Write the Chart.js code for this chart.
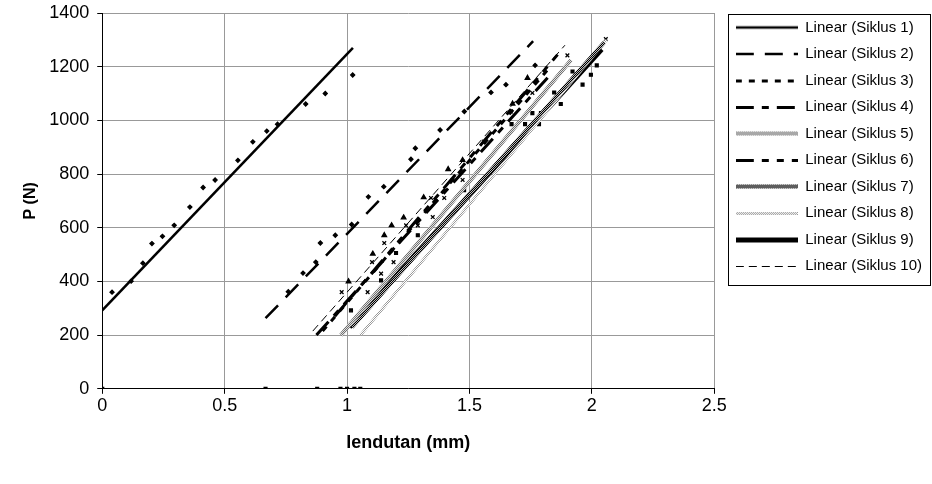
<!DOCTYPE html>
<html>
<head>
<meta charset="utf-8">
<script src="https://cdn.jsdelivr.net/npm/chart.js@4.4.0/dist/chart.umd.min.js"></script>
<style>
  body { margin: 0; background: #fff; }
</style>
</head>
<body>
<canvas id="chart" width="932" height="484"></canvas>
<script>
// --- Data ---
const cycleNames = ['Linear (Siklus 1)', 'Linear (Siklus 2)', 'Linear (Siklus 3)', 'Linear (Siklus 4)', 'Linear (Siklus 5)',
  'Linear (Siklus 6)', 'Linear (Siklus 7)', 'Linear (Siklus 8)', 'Linear (Siklus 9)', 'Linear (Siklus 10)'];

// trend line end points per cycle (lendutan mm, P N)
const trendStartX = [0, 0.667, 0.90, 0.875, 0.975, 0.95, 1.02, 1.055, 1.01, 0.86];
const trendStartP = [292, 263, 215, 200, 200, 270, 230, 200, 230, 215];
const trendEndX = [1.024, 1.76, 1.83, 1.82, 1.915, 1.86, 2.05, 2.06, 2.04, 1.89];
const trendEndP = [1270, 1295, 1200, 1160, 1225, 1245, 1290, 1300, 1265, 1280];

// measured points
const cycle1X = [0.04, 0.118, 0.166, 0.203, 0.246, 0.294, 0.358, 0.412, 0.461, 0.554, 0.615, 0.672, 0.716, 0.831, 0.911, 1.023];
const cycle1P = [360, 401, 468, 541, 568, 609, 677, 750, 778, 851, 920, 960, 986, 1061, 1100, 1169];
const cycle2X = [0.760, 0.820, 0.872, 0.891, 0.952, 1.019, 1.087, 1.150, 1.261, 1.279, 1.380, 1.479, 1.588, 1.649, 1.768];
const cycle2P = [362, 431, 472, 543, 572, 612, 715, 753, 855, 896, 964, 1033, 1104, 1133, 1205];
const triangleX = [1.006, 1.105, 1.152, 1.182, 1.231, 1.313, 1.413, 1.472, 1.676, 1.737];
const triangleP = [400, 503, 572, 609, 638, 713, 818, 852, 1062, 1158];
const crossX = [0.978, 1.084, 1.102, 1.139, 1.152, 1.19, 1.241, 1.289, 1.343, 1.35, 1.397, 1.431, 1.472, 1.56, 1.669, 1.757, 1.9, 2.057];
const crossP = [360, 360, 472, 429, 543, 472, 609, 609, 711, 640, 711, 778, 778, 921, 1033, 1102, 1242, 1303];
const squareX = [1.016, 1.139, 1.2, 1.289, 1.478, 1.672, 1.727, 1.757, 1.784, 1.792, 1.846, 1.873, 1.921, 1.962, 1.996, 2.02];
const squareP = [292, 404, 506, 572, 740, 986, 986, 1027, 986, 1027, 1104, 1061, 1182, 1133, 1170, 1205];
const zeroX = [0, 0.667, 0.878, 0.973, 1.0, 1.03, 1.054];
const zeroP = [0, 0, 0, 0, 0, 0, 0];

const xTicks = [0, 0.5, 1, 1.5, 2, 2.5];
const yTicks = [0, 200, 400, 600, 800, 1000, 1200, 1400];

// small checker patterns for the hatched lines
function checker(a, b) {
  const c = document.createElement('canvas');
  c.width = 2; c.height = 2;
  const g = c.getContext('2d');
  g.fillStyle = a; g.fillRect(0, 0, 2, 2);
  g.fillStyle = b; g.fillRect(0, 0, 1, 1); g.fillRect(1, 1, 1, 1);
  return g.createPattern(c, 'repeat');
}

const lineStyles = [
  { color: '#000', width: 2.5, dash: [] },
  { color: '#000', width: 2.5, dash: [18, 11] },
  { color: '#000', width: 3, dash: [6, 7] },
  { color: '#000', width: 3, dash: [18, 8, 7, 8] },
  { color: checker('#e0e0e0', '#707070'), width: 4, dash: [] },
  { color: '#000', width: 3, dash: [18, 8, 7, 8, 7, 8] },
  { color: checker('#000', '#bbb'), width: 4, dash: [] },
  { color: checker('#fff', '#999'), width: 3, dash: [] },
  { color: '#000', width: 5, dash: [] },
  { color: '#000', width: 1, dash: [8, 5] }
];

// legend sample: a short stretch of the line in its own style
function swatch(style) {
  const c = document.createElement('canvas');
  c.width = 62; c.height = 8;
  const g = c.getContext('2d');
  const mid = style.width % 2 === 1 ? 4.5 : 4;
  g.strokeStyle = style.color;
  g.lineWidth = style.width;
  g.setLineDash(style.dash);
  g.beginPath(); g.moveTo(0, mid); g.lineTo(62, mid); g.stroke();
  return c;
}

const pts = (xs, ys) => xs.map((x, i) => ({ x: x, y: ys[i] }));

const datasets = cycleNames.map((name, i) => ({
  type: 'line',
  label: name,
  data: [{ x: trendStartX[i], y: trendStartP[i] }, { x: trendEndX[i], y: trendEndP[i] }],
  borderColor: lineStyles[i].color,
  backgroundColor: lineStyles[i].color,
  borderWidth: lineStyles[i].width,
  borderDash: lineStyles[i].dash,
  borderCapStyle: 'butt',
  pointRadius: 0,
  pointStyle: swatch(lineStyles[i]),
  showLine: true,
  fill: false
}));

function markers(label, xs, ys, style, radius) {
  return {
    type: 'scatter',
    label: label,
    data: pts(xs, ys),
    pointStyle: style,
    pointRadius: radius,
    pointBorderWidth: 1.3,
    pointBackgroundColor: '#000',
    pointBorderColor: '#000'
  };
}

datasets.push(markers('Siklus 1', cycle1X, cycle1P, 'rectRot', 2));
datasets.push(markers('Siklus 2', cycle2X, cycle2P, 'rectRot', 2));
datasets.push(markers('tri', triangleX, triangleP, 'triangle', 2.6));
datasets.push(markers('cross', crossX, crossP, 'crossRot', 2.6));
datasets.push(markers('sq', squareX, squareP, 'rect', 2));
datasets.push(markers('zero', zeroX, zeroP, 'rect', 2));

// widen the gap between plot and legend, nudge the legend down, frame it
const legendTweak = {
  id: 'legendTweak',
  beforeLayout(chart) {
    const lg = chart.legend;
    if (lg && !lg._widened) {
      const fit = lg.fit;
      lg.fit = function () { fit.call(this); this.width += 10; };
      lg._widened = true;
    }
  },
  afterLayout(chart) {
    const lg = chart.legend;
    if (!lg) return;
    lg.left += 10;
    lg.top += 6.5;
  },
  afterDraw(chart) {
    const lg = chart.legend;
    if (!lg) return;
    const ctx = chart.ctx;
    const left = Math.round(lg.left + 3.5);
    const top = Math.round(lg.top + 5.5);
    const bottom = Math.round(lg.top + 276.5);
    ctx.save();
    ctx.strokeStyle = '#000';
    ctx.lineWidth = 1;
    ctx.strokeRect(left + 0.5, top + 0.5, 930 - left, bottom - top);
    ctx.restore();
  }
};

new Chart(document.getElementById('chart'), {
  type: 'scatter',
  data: { datasets: datasets },
  options: {
    responsive: false,
    animation: false,
    layout: { padding: { left: 4, right: 0, top: 2, bottom: 26 } },
    scales: {
      x: {
        type: 'linear',
        min: 0, max: 2.5,
        afterBuildTicks: axis => { axis.ticks = xTicks.map(v => ({ value: v })); },
        ticks: { color: '#000', font: { family: 'Liberation Sans', size: 18 }, padding: 1, callback: v => String(v) },
        grid: { color: '#999', tickColor: '#000', tickLength: 5 },
        border: { color: '#000' },
        title: { display: true, text: 'lendutan (mm)', color: '#000', font: { family: 'Liberation Sans', size: 18, weight: 'bold' }, padding: { top: 15, bottom: 4 } }
      },
      y: {
        type: 'linear',
        min: 0, max: 1400,
        afterBuildTicks: axis => { axis.ticks = yTicks.map(v => ({ value: v })); },
        afterFit: axis => { axis.paddingTop = 13; },
        ticks: { color: '#000', font: { family: 'Liberation Sans', size: 18 }, padding: 8, callback: v => String(v) },
        grid: { color: '#999', tickColor: '#000', tickLength: 5 },
        border: { color: '#000' },
        title: { display: true, text: 'P (N)', color: '#000', font: { family: 'Liberation Sans', size: 16, weight: 'bold' }, padding: { top: 17, bottom: 1 } }
      }
    },
    plugins: {
      legend: {
        position: 'right',
        align: 'start',
        labels: {
          usePointStyle: true,
          pointStyleWidth: 62,
          color: '#000',
          font: { family: 'Liberation Sans', size: 15 },
          padding: 11.5,
          filter: item => item.datasetIndex < 10
        }
      },
      tooltip: { enabled: false }
    }
  },
  plugins: [legendTweak]
});
</script>
</body>
</html>
